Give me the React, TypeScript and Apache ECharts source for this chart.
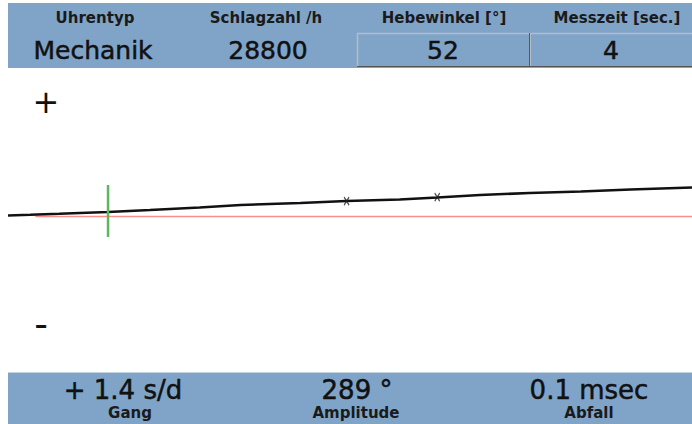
import React, { useEffect, useRef } from "react";
import * as echarts from "echarts";

// Header fields
const headerLabels = ["Uhrentyp", "Schlagzahl /h", "Hebewinkel [°]", "Messzeit [sec.]"];
const headerValues = ["Mechanik", "28800", "52", "4"];
// Footer results
const resultValues = ["+ 1.4 s/d", "289 °", "0.1 msec"];
const resultLabels = ["Gang", "Amplitude", "Abfall"];

// Trace: time [s] vs. rate deviation
const timeSec = [0, 0.13, 0.3, 0.42, 0.585, 0.83, 1.12, 1.36, 1.71, 1.98, 2.29, 2.51, 2.76, 3.05, 3.35, 3.64, 4.0];
const traceValues = [0.07, 0.11, 0.18, 0.24, 0.3, 0.44, 0.61, 0.77, 0.91, 1.04, 1.14, 1.28, 1.45, 1.58, 1.68, 1.82, 1.95];
// glitch marks on the trace
const glitchTimes = [1.98, 2.51];
const glitchValues = [1.04, 1.3];
// reference (zero) line
const refStart = 0.16;
const refEnd = 4.0;
// cursor (green)
const cursorTime = 0.585;
const cursorTop = 2.12;
const cursorBottom = -1.38;

const BLUE = "#80a4c8";
const FONT = "DejaVu Sans";

export default function App() {
  const ref = useRef<HTMLDivElement>(null);
  useEffect(() => {
    if (!ref.current) return;
    const chart = echarts.init(ref.current, null, { renderer: "svg" });
    const labelX = [95, 266, 444, 617];
    const valueX = [93, 268, 443, 611];
    const resX = [123, 357, 589];
    const resLX = [130, 356, 589];
    const valueStyle = { fontFamily: FONT, fill: "#111", align: "center", verticalAlign: "middle", stroke: "#111", lineWidth: 0.5 };
    const graphic: any[] = [
      { type: "rect", shape: { x: 8, y: 3, width: 684, height: 65 }, style: { fill: BLUE }, z: 1 },
      { type: "line", shape: { x1: 357, y1: 33.5, x2: 692, y2: 33.5 }, style: { stroke: "#b4bcc6", lineWidth: 1.5 }, z: 2 },
      { type: "line", shape: { x1: 357.5, y1: 33, x2: 357.5, y2: 67 }, style: { stroke: "#b4bcc6", lineWidth: 1.5 }, z: 2 },
      { type: "line", shape: { x1: 529.5, y1: 33, x2: 529.5, y2: 67 }, style: { stroke: "#5a5a5a", lineWidth: 1 }, z: 2 },
      { type: "line", shape: { x1: 530.5, y1: 34, x2: 530.5, y2: 67 }, style: { stroke: "#b4bcc6", lineWidth: 1 }, z: 2 },
      { type: "line", shape: { x1: 357, y1: 66.5, x2: 692, y2: 66.5 }, style: { stroke: "#555", lineWidth: 1.2 }, z: 2 },
      { type: "rect", shape: { x: 8, y: 372, width: 684, height: 52 }, style: { fill: BLUE }, z: 1 },
      { type: "line", shape: { x1: 8, y1: 372.5, x2: 692, y2: 372.5 }, style: { stroke: "#c6d4e2", lineWidth: 1 }, z: 2 },
      { type: "text", x: 46, y: 102, style: { text: "+", fontSize: 32, fontFamily: FONT, fill: "#111", align: "center", verticalAlign: "middle" }, z: 3 },
      { type: "text", x: 41, y: 324, style: { text: "-", fontSize: 38, fontFamily: FONT, fill: "#111", align: "center", verticalAlign: "middle" }, z: 3 },
    ];
    headerLabels.forEach((t, i) => {
      graphic.push({ type: "text", x: labelX[i], y: 18, style: { text: t, fontSize: 15, fontWeight: "bold", fontFamily: FONT, fill: "#1a1a1a", align: "center", verticalAlign: "middle" }, z: 3 });
    });
    headerValues.forEach((t, i) => {
      graphic.push({ type: "text", x: valueX[i], y: 50, style: { ...valueStyle, text: t, fontSize: 25 }, z: 3 });
    });
    resultValues.forEach((t, i) => {
      graphic.push({ type: "text", x: resX[i], y: 390, style: { ...valueStyle, text: t, fontSize: 26 }, z: 3 });
    });
    resultLabels.forEach((t, i) => {
      graphic.push({ type: "text", x: resLX[i], y: 413, style: { text: t, fontSize: 15, fontWeight: "bold", fontFamily: FONT, fill: "#1a1a1a", align: "center", verticalAlign: "middle" }, z: 3 });
    });

    chart.setOption({
      animation: false,
      backgroundColor: "#fff",
      grid: { left: 8, right: 0, top: 68, height: 297 },
      xAxis: { type: "value", min: 0, max: 4, show: false },
      yAxis: { type: "value", min: -10, max: 10, show: false },
      graphic,
      series: [
        {
          type: "line",
          name: "Referenz",
          data: [[refStart, 0], [refEnd, 0]],
          symbol: "none",
          lineStyle: { color: "#ff8c8c", width: 1.5 },
          z: 2,
        },
        {
          type: "line",
          name: "Gang",
          data: timeSec.map((t, i) => [t, traceValues[i]]),
          symbol: "none",
          lineStyle: { color: "#111", width: 2.5 },
          z: 3,
        },
        {
          type: "scatter",
          name: "Störung",
          data: glitchTimes.map((t, i) => [t, glitchValues[i]]),
          symbol: "path://M0,0L6,9M6,0L0,9",
          symbolSize: [5, 8],
          itemStyle: { color: "none", borderColor: "#222", borderWidth: 1.4 },
          z: 4,
        },
        {
          type: "line",
          name: "Cursor",
          data: [[cursorTime, cursorTop], [cursorTime, cursorBottom]],
          symbol: "none",
          lineStyle: { color: "#5cb85c", width: 2.5 },
          z: 4,
        },
      ],
    });
    return () => chart.dispose();
  }, []);
  return <div ref={ref} style={{ position: "absolute", left: 0, top: 0, width: 692, height: 424 }} />;
}
